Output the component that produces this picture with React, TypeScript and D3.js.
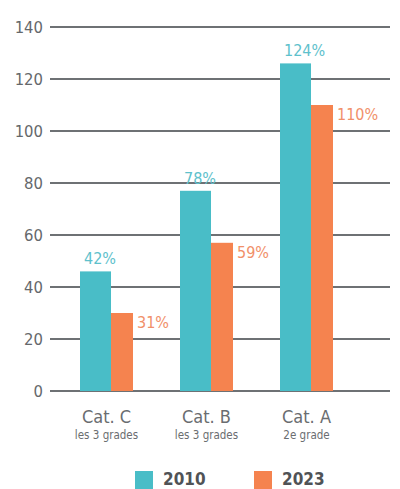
import { useRef, useEffect } from 'react';
import * as d3 from 'd3';

// Data
const categories: string[] = ['Cat. C', 'Cat. B', 'Cat. A'];
const subLabels: string[] = ['les 3 grades', 'les 3 grades', '2e grade'];
const series2010: number[] = [46, 77, 126];
const series2023: number[] = [30, 57, 110];
const labels2010: string[] = ['42%', '78%', '124%'];
const labels2023: string[] = ['31%', '59%', '110%'];
const yTicks: number[] = [0, 20, 40, 60, 80, 100, 120, 140];
const legendItems: string[] = ['2010', '2023'];

const TEAL = '#49bdc7';
const ORANGE = '#f5834f';
const FONT = '"DejaVu Sans Condensed", "Liberation Sans Narrow", sans-serif';

export default function App() {
  const chartRef = useRef<SVGSVGElement | null>(null);

  useEffect(() => {
    if (!chartRef.current) return;

    const svgWidth = 400;
    const svgHeight = 489;

    const svg = d3.select(chartRef.current)
      .attr('width', svgWidth)
      .attr('height', svgHeight);
    svg.selectAll('*').remove();

    // Scales
    const yScale = d3.scaleLinear<number, number>()
      .domain([0, 140])
      .range([391, 27]);

    const xScale = d3.scaleBand<string>()
      .domain(categories)
      .range([50, 363])
      .paddingInner(0.47)
      .paddingOuter(0.3);

    const bw = xScale.bandwidth();
    const w2010 = bw * 0.585;
    const w2023 = bw - w2010;

    // Grid lines
    svg.append('g')
      .selectAll('line')
      .data(yTicks)
      .enter()
      .append('line')
      .attr('x1', 50)
      .attr('x2', 390)
      .attr('y1', (d) => yScale(d))
      .attr('y2', (d) => yScale(d))
      .attr('stroke', '#6e7174')
      .attr('stroke-width', 2);

    // Y tick labels
    svg.append('g')
      .selectAll('text')
      .data(yTicks)
      .enter()
      .append('text')
      .text((d) => String(d))
      .attr('x', 43)
      .attr('y', (d) => yScale(d) + 6)
      .attr('text-anchor', 'end')
      .attr('font-family', FONT)
      .attr('font-size', '16.5px')
      .attr('fill', '#65686b');

    // Bars 2010
    svg.append('g')
      .selectAll('rect')
      .data(series2010)
      .enter()
      .append('rect')
      .attr('x', (_d, i) => xScale(categories[i]) || 0)
      .attr('y', (d) => yScale(d))
      .attr('width', w2010)
      .attr('height', (d) => yScale(0) - yScale(d))
      .attr('fill', TEAL);

    // Bars 2023
    svg.append('g')
      .selectAll('rect')
      .data(series2023)
      .enter()
      .append('rect')
      .attr('x', (_d, i) => (xScale(categories[i]) || 0) + w2010)
      .attr('y', (d) => yScale(d))
      .attr('width', w2023)
      .attr('height', (d) => yScale(0) - yScale(d))
      .attr('fill', ORANGE);

    // Value labels 2010
    svg.append('g')
      .selectAll('text')
      .data(series2010)
      .enter()
      .append('text')
      .text((_d, i) => labels2010[i])
      .attr('x', (_d, i) => (xScale(categories[i]) || 0) + 4)
      .attr('y', (d) => yScale(d) - 7)
      .attr('font-family', FONT)
      .attr('font-size', '16px')
      .attr('fill', '#5ec1cc');

    // Value labels 2023
    svg.append('g')
      .selectAll('text')
      .data(series2023)
      .enter()
      .append('text')
      .text((_d, i) => labels2023[i])
      .attr('x', (_d, i) => (xScale(categories[i]) || 0) + bw + 4)
      .attr('y', (d) => yScale(d) + 15)
      .attr('font-family', FONT)
      .attr('font-size', '16px')
      .attr('fill', '#f1906a');

    // Category labels
    const catG = svg.append('g');
    catG.selectAll('text.cat')
      .data(categories)
      .enter()
      .append('text')
      .attr('class', 'cat')
      .text((d) => d)
      .attr('x', (d) => (xScale(d) || 0) + bw / 2)
      .attr('y', 423)
      .attr('text-anchor', 'middle')
      .attr('font-family', FONT)
      .attr('font-size', '18px')
      .attr('fill', '#6a6d70');
    catG.selectAll('text.sub')
      .data(subLabels)
      .enter()
      .append('text')
      .attr('class', 'sub')
      .text((d) => d)
      .attr('x', (_d, i) => (xScale(categories[i]) || 0) + bw / 2)
      .attr('y', 439)
      .attr('text-anchor', 'middle')
      .attr('font-family', FONT)
      .attr('font-size', '11.5px')
      .attr('fill', '#6a6d70');

    // Legend
    const legendX = [135, 254];
    const legendColors = [TEAL, ORANGE];
    const leg = svg.append('g');
    leg.selectAll('rect')
      .data(legendItems)
      .enter()
      .append('rect')
      .attr('x', (_d, i) => legendX[i])
      .attr('y', 471)
      .attr('width', 18)
      .attr('height', 18)
      .attr('fill', (_d, i) => legendColors[i]);
    leg.selectAll('text')
      .data(legendItems)
      .enter()
      .append('text')
      .text((d) => d)
      .attr('x', (_d, i) => legendX[i] + 28)
      .attr('y', 485)
      .attr('font-family', FONT)
      .attr('font-size', '17px')
      .attr('font-weight', 'bold')
      .attr('fill', '#505356');
  }, []);

  return (
    <div style={{ position: 'absolute', left: 0, top: 0 }}>
      <svg ref={chartRef} style={{ display: 'block', background: '#fff' }}></svg>
    </div>
  );
}
